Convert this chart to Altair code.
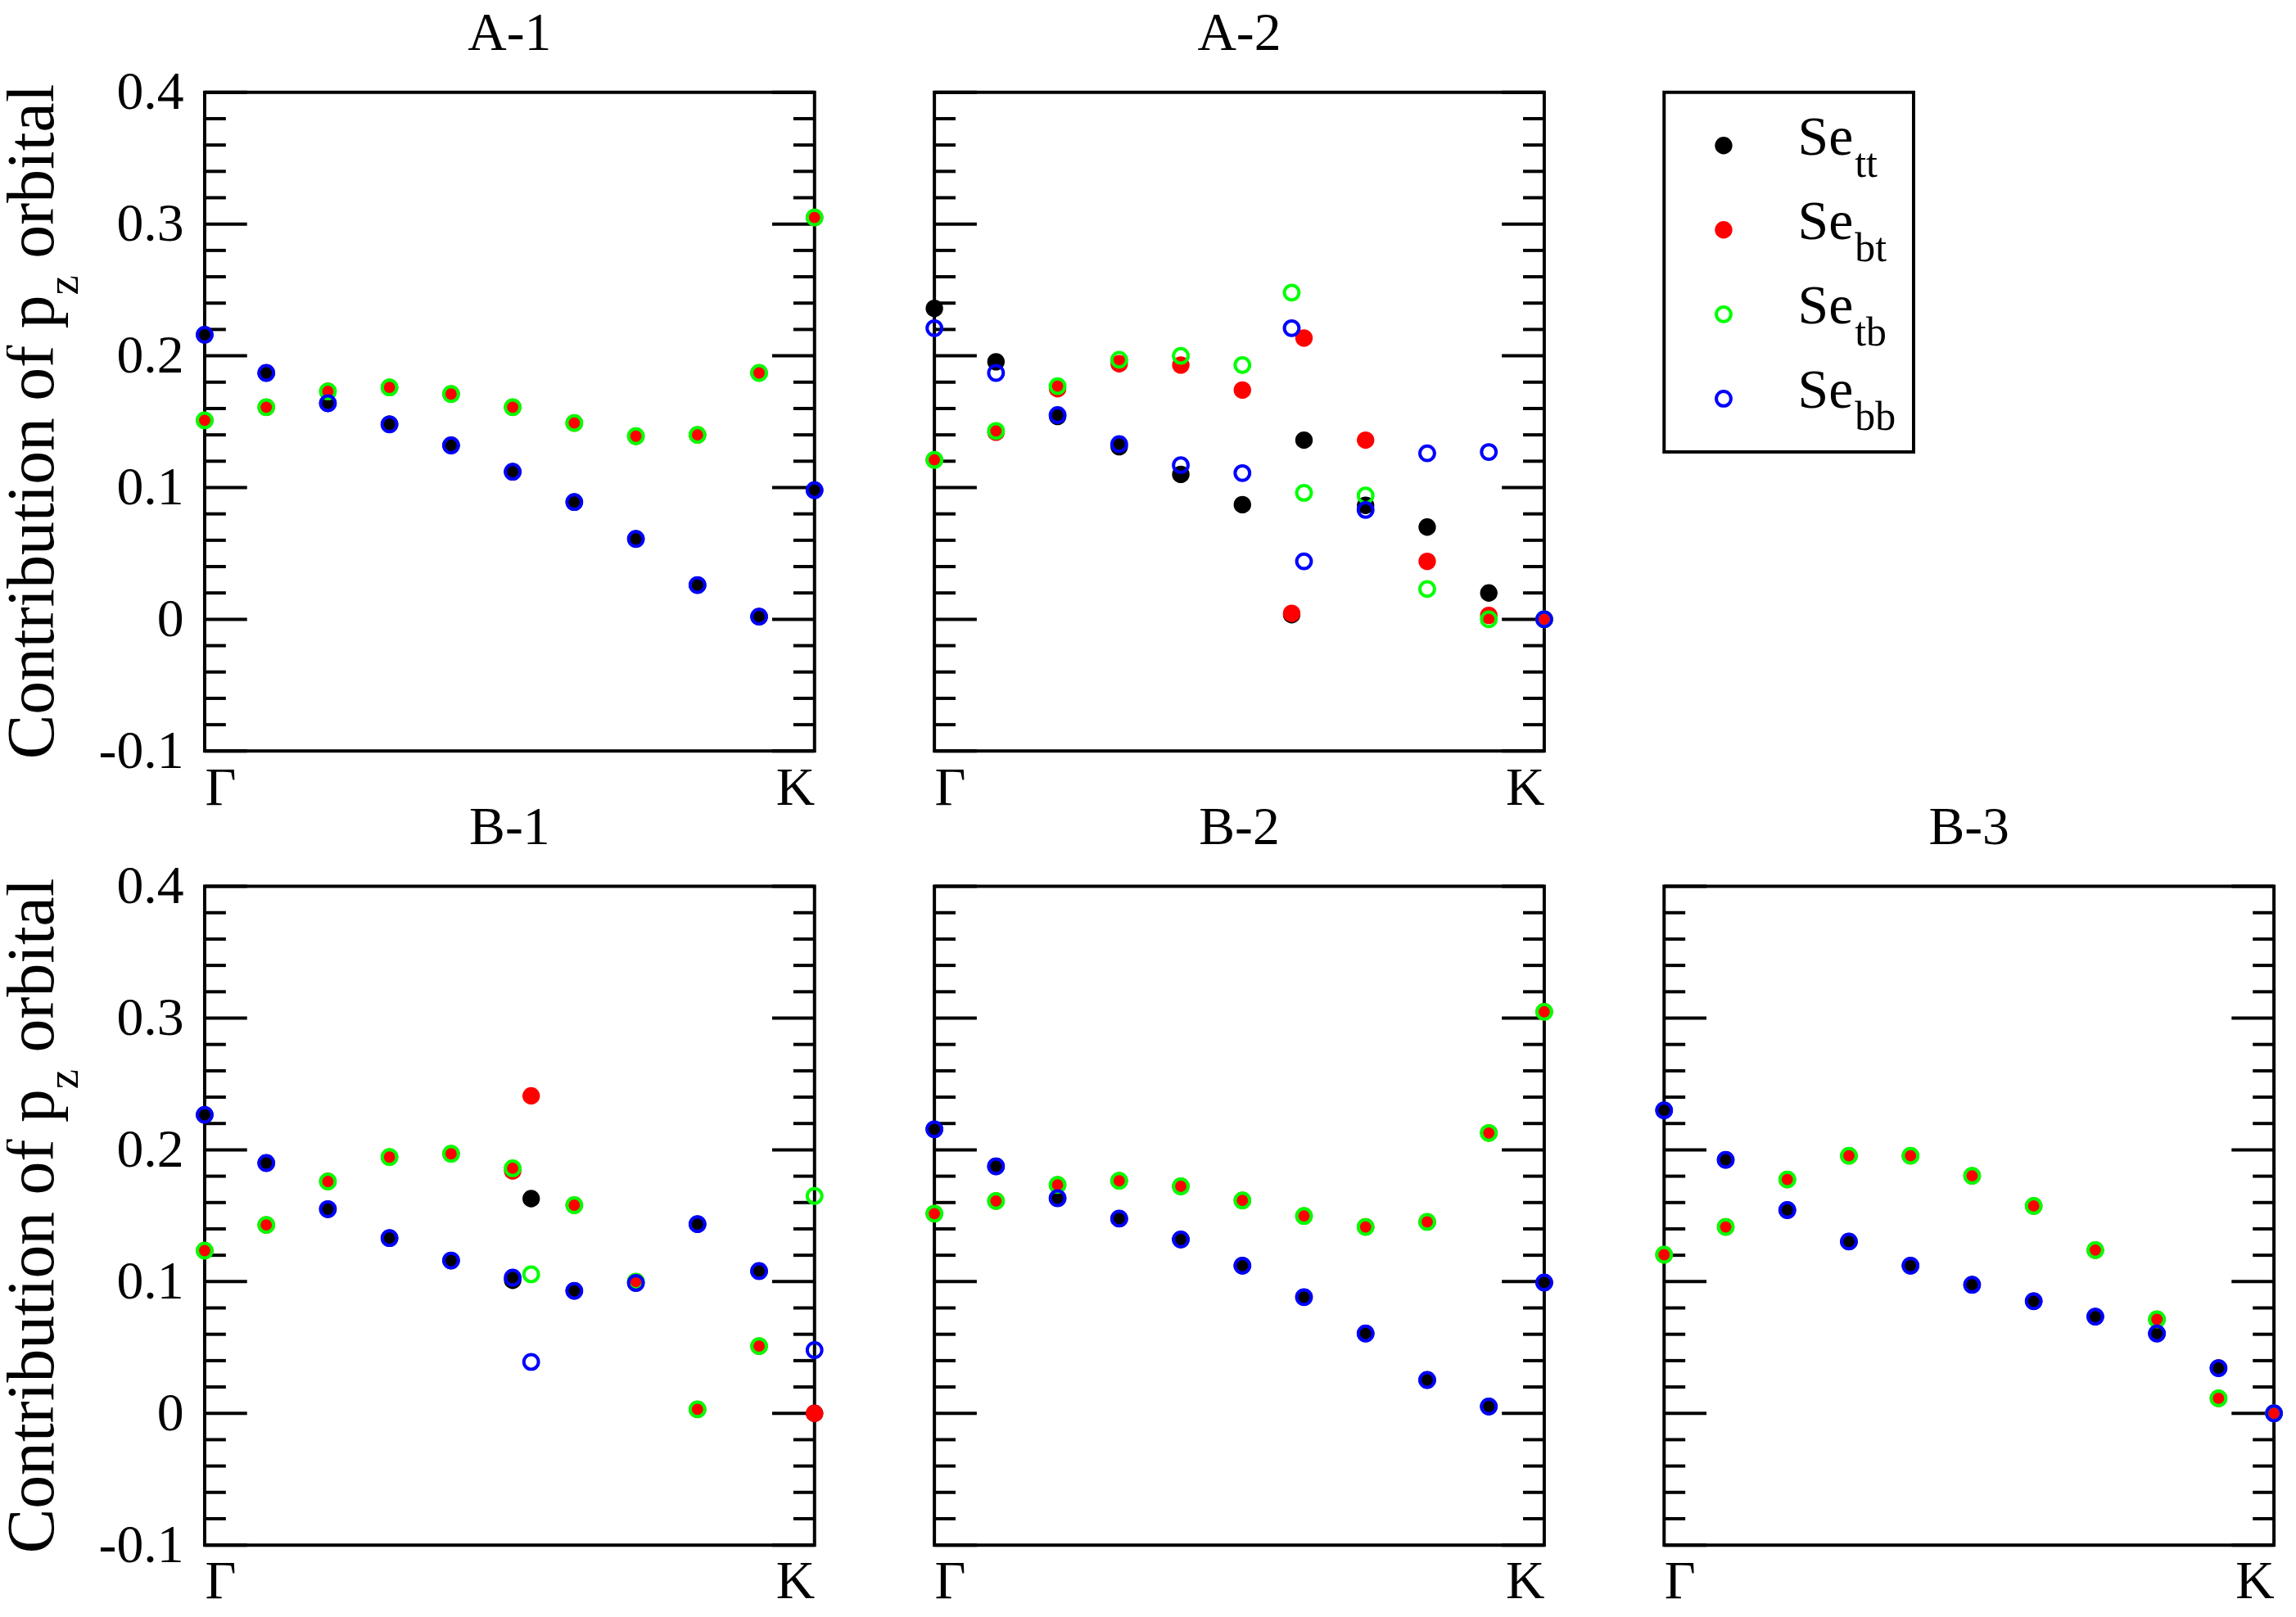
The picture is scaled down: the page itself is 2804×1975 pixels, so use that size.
import altair as alt
import pandas as pd

# ---------------- data ----------------
SERIES = ["tt", "bt", "tb", "bb"]
COLORS = ["#000000", "#ff0000", "#00ff00", "#0000ff"]
LEGEND_BASE = "Se"
K_LABELS = ["Γ", "K"]
K_END = 9.9
Y_TICKS = [-0.1, 0.0, 0.1, 0.2, 0.3, 0.4]
MINOR_TICKS = [-0.08, -0.06, -0.04, -0.02, 0.02, 0.04, 0.06, 0.08,
               0.12, 0.14, 0.16, 0.18, 0.22, 0.24, 0.26, 0.28,
               0.32, 0.34, 0.36, 0.38]
Y_TITLE = ["Contribution of p", "z", "orbital"]

# A-1
A1_k = [0, 1, 2, 3, 4, 5, 6, 7, 8, 9, 9.9]
A1_tt = [0.216, 0.187, 0.164, 0.148, 0.132, 0.112, 0.089, 0.061, 0.026, 0.002, 0.098]
A1_bt = [0.151, 0.161, 0.173, 0.176, 0.171, 0.161, 0.149, 0.139, 0.140, 0.187, 0.305]
A1_tb = [0.151, 0.161, 0.173, 0.176, 0.171, 0.161, 0.149, 0.139, 0.140, 0.187, 0.305]
A1_bb = [0.216, 0.187, 0.164, 0.148, 0.132, 0.112, 0.089, 0.061, 0.026, 0.002, 0.098]

# A-2
A2_k = [0, 1, 2, 3, 4, 5, 5.8, 6, 7, 8, 9, 9.9]
A2_tt = [0.236, 0.1955, 0.154, 0.131, 0.110, 0.087, 0.0035, 0.136, 0.0865, 0.070, 0.020, 0.0]
A2_bt = [0.121, 0.142, 0.175, 0.194, 0.193, 0.174, 0.0045, 0.2135, 0.136, 0.044, 0.003, 0.0]
A2_tb = [0.121, 0.143, 0.177, 0.197, 0.200, 0.193, 0.248, 0.096, 0.094, 0.023, 0.0, 0.0]
A2_bb = [0.221, 0.187, 0.155, 0.133, 0.117, 0.111, 0.221, 0.044, 0.083, 0.126, 0.127, 0.0]

# B-1
B1_k = [0, 1, 2, 3, 4, 5, 5.3, 6, 7, 8, 9, 9.9]
B1_tt = [0.2266, 0.190, 0.155, 0.133, 0.116, 0.101, 0.163, 0.093, 0.099, 0.1436, 0.108, 0.0]
B1_bt = [0.1235, 0.143, 0.176, 0.1945, 0.197, 0.184, 0.241, 0.158, 0.100, 0.003, 0.051, 0.0]
B1_tb = [0.1235, 0.143, 0.176, 0.1945, 0.197, 0.186, 0.1055, 0.158, 0.100, 0.003, 0.051, 0.165]
B1_bb = [0.2266, 0.190, 0.155, 0.133, 0.116, 0.103, 0.039, 0.093, 0.099, 0.1436, 0.108, 0.048]

# B-2
B2_k = [0, 1, 2, 3, 4, 5, 6, 7, 8, 9, 9.9]
B2_tt = [0.2156, 0.1875, 0.1633, 0.1478, 0.132, 0.1121, 0.0882, 0.0606, 0.0253, 0.0052, 0.0993]
B2_bt = [0.1516, 0.1612, 0.1734, 0.1765, 0.1723, 0.1616, 0.1498, 0.1415, 0.1453, 0.2128, 0.3048]
B2_tb = [0.1516, 0.1612, 0.1734, 0.1765, 0.1723, 0.1616, 0.1498, 0.1415, 0.1453, 0.2128, 0.3048]
B2_bb = [0.2156, 0.1875, 0.1633, 0.1478, 0.132, 0.1121, 0.0882, 0.0606, 0.0253, 0.0052, 0.0993]

# B-3
B3_k = [0, 1, 2, 3, 4, 5, 6, 7, 8, 9, 9.9]
B3_tt = [0.230, 0.1924, 0.1543, 0.1304, 0.1121, 0.0976, 0.0851, 0.0734, 0.0606, 0.0343, 0.0]
B3_bt = [0.1204, 0.1415, 0.1775, 0.1955, 0.1955, 0.1803, 0.1574, 0.1239, 0.0713, 0.0114, 0.0]
B3_tb = [0.1204, 0.1415, 0.1775, 0.1955, 0.1955, 0.1803, 0.1574, 0.1239, 0.0713, 0.0114, 0.0]
B3_bb = [0.230, 0.1924, 0.1543, 0.1304, 0.1121, 0.0976, 0.0851, 0.0734, 0.0606, 0.0343, 0.0]

# ---------------- style ----------------
FONT = "Liberation Serif"
W, H = 748, 808
MAJ, MIN = 52, 26
FILLED_SIZE = 460
OPEN_SIZE = 320

YSCALE = alt.Scale(domain=[-0.1, 0.4], nice=False, zero=False)
XSCALE = alt.Scale(domain=[0, K_END], nice=False, zero=False)
COLSCALE = alt.Scale(domain=SERIES, range=COLORS)

XAXIS = alt.Axis(
    values=[0, K_END],
    labelExpr=f"datum.value == 0 ? '{K_LABELS[0]}' : '{K_LABELS[1]}'",
    labelFlush=True, ticks=False, tickSize=0, domain=False, grid=False, title=None,
    labelFont=FONT, labelFontSize=66, labelColor="black", labelPadding=13,
    labelBaseline="top",
)
YAXIS = alt.Axis(
    values=Y_TICKS,
    labelExpr="datum.value < 0 ? '-' + format(-datum.value, '.1f') : (datum.value == 0 ? '0' : format(datum.value, '.1f'))",
    ticks=False, tickSize=0, domain=False, grid=False, title=None,
    labelFont=FONT, labelFontSize=66, labelColor="black", labelPadding=26,
    labelBaseline="middle",
)


def panel(title, k, tt, bt, tb, bb, with_y):
    rows = []
    for s, vals in zip(SERIES, [tt, bt, tb, bb]):
        for kk, v in zip(k, vals):
            rows.append({"k": kk, "v": v, "s": s})
    df = pd.DataFrame(rows)
    yax = YAXIS if with_y else None
    xenc = alt.X("k:Q", scale=XSCALE, axis=XAXIS)
    yenc = alt.Y("v:Q", scale=YSCALE, axis=yax)
    col = alt.Color("s:N", scale=COLSCALE, legend=None)

    major = pd.DataFrame({"v": Y_TICKS})
    minor = pd.DataFrame({"v": MINOR_TICKS})
    layers = []
    for data, ln in [(major, MAJ), (minor, MIN)]:
        layers.append(alt.Chart(data).mark_rule(color="black", strokeWidth=4).encode(
            y=alt.Y("v:Q", scale=YSCALE, axis=yax), x=alt.value(0), x2=alt.value(ln)))
        layers.append(alt.Chart(data).mark_rule(color="black", strokeWidth=4).encode(
            y=alt.Y("v:Q", scale=YSCALE, axis=yax), x=alt.value(W - ln), x2=alt.value(W)))

    filled = alt.Chart(df).transform_filter(
        alt.FieldOneOfPredicate(field="s", oneOf=SERIES[:2])
    ).mark_point(filled=True, shape="circle", size=FILLED_SIZE, opacity=1).encode(
        x=xenc, y=yenc, color=col)
    hollow = alt.Chart(df).transform_filter(
        alt.FieldOneOfPredicate(field="s", oneOf=SERIES[2:])
    ).mark_point(filled=False, shape="circle", size=OPEN_SIZE, strokeWidth=4, opacity=1).encode(
        x=xenc, y=yenc, color=col)
    layers += [filled, hollow]

    # panel title
    layers.append(alt.Chart(pd.DataFrame({"t": [title]})).mark_text(
        align="center", baseline="alphabetic", font=FONT, fontSize=66, color="black"
    ).encode(text="t:N", x=alt.value(W / 2), y=alt.value(-52)))

    if with_y:
        F, FS, SUB = 82, 55, 30
        L1 = 6.945 * F
        LZ = 0.444 * FS
        SP = 0.25 * F
        L3 = 2.611 * F
        T = L1 + LZ + SP + L3
        d0 = L1 - T / 2
        parts = [
            (Y_TITLE[0], "right", d0, 0, F),
            (Y_TITLE[1], "left", d0, SUB, FS),
            (Y_TITLE[2], "left", d0 + LZ + SP, 0, F),
        ]
        for txt, al, dx, dy, fs in parts:
            layers.append(alt.Chart(pd.DataFrame({"t": [txt]})).mark_text(
                angle=270, align=al, baseline="alphabetic", dx=dx, dy=dy,
                font=FONT, fontSize=fs, color="black").encode(
                text="t:N", x=alt.value(-186), y=alt.value(H / 2)))

    return alt.layer(*layers).properties(width=W, height=H)


def legend_chart():
    ldf = pd.DataFrame({"s": SERIES, "lab": [LEGEND_BASE] * 4})
    ly = alt.Y("s:N", scale=alt.Scale(type="point", domain=SERIES, padding=0.63), axis=None)
    col = alt.Color("s:N", scale=COLSCALE, legend=None)
    f = alt.Chart(ldf).transform_filter(
        alt.FieldOneOfPredicate(field="s", oneOf=SERIES[:2])
    ).mark_point(filled=True, shape="circle", size=FILLED_SIZE, opacity=1).encode(
        x=alt.value(73), y=ly, color=col)
    o = alt.Chart(ldf).transform_filter(
        alt.FieldOneOfPredicate(field="s", oneOf=SERIES[2:])
    ).mark_point(filled=False, shape="circle", size=OPEN_SIZE, strokeWidth=4, opacity=1).encode(
        x=alt.value(73), y=ly, color=col)
    t = alt.Chart(ldf).mark_text(align="left", baseline="alphabetic", dy=11, font=FONT,
                                 fontSize=68, color="black").encode(
        x=alt.value(164), y=ly, text="lab:N")
    s = alt.Chart(ldf).mark_text(align="left", baseline="alphabetic", dy=38, font=FONT,
                                 fontSize=50, color="black").encode(
        x=alt.value(234), y=ly, text="s:N")
    return alt.layer(f, o, t, s).properties(width=306, height=441)


A1 = panel("A-1", A1_k, A1_tt, A1_bt, A1_tb, A1_bb, True)
A2 = panel("A-2", A2_k, A2_tt, A2_bt, A2_tb, A2_bb, False)
B1 = panel("B-1", B1_k, B1_tt, B1_bt, B1_tb, B1_bb, True)
B2 = panel("B-2", B2_k, B2_tt, B2_bt, B2_tb, B2_bb, False)
B3 = panel("B-3", B3_k, B3_tt, B3_bt, B3_tb, B3_bb, False)

chart = alt.concat(
    A1, A2, legend_chart(), B1, B2, B3,
    columns=3, spacing={"row": 166, "column": 147}, bounds="flush",
).properties(
    padding={"left": -12, "top": -6, "right": 0, "bottom": 0},
    background="white",
).configure_view(stroke="black", strokeWidth=4)

chart.save("out.html", embed_options={"renderer": "svg", "actions": False})
